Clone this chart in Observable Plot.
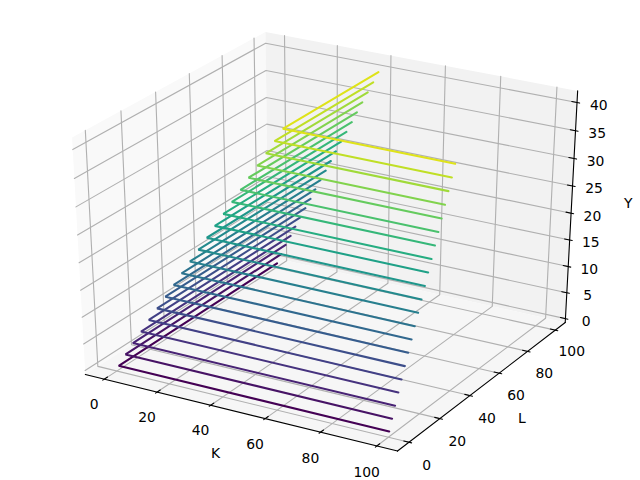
<!DOCTYPE html>
<html><head><meta charset="utf-8">
<script src="https://cdn.jsdelivr.net/npm/d3@7"></script>
<script src="https://cdn.jsdelivr.net/npm/@observablehq/plot@0.6"></script>
<style>html,body{margin:0;padding:0;background:#fff}svg{display:block}</style>
</head><body><div id="chart"></div>
<script>
const kLim = [-5, 105], lLim = [-5, 105], yLim = [0.1, 41.2];
const kTicks = [0, 20, 40, 60, 80, 100];
const lTicks = [0, 20, 40, 60, 80, 100];
const yTicks = [0, 5, 10, 15, 20, 25, 30, 35, 40];
const levels = [0.2,2.2,4.2,6.2,8.2,10.2,12.2,14.2,16.2,18.2,20.2,22.2,24.2,26.2,28.2,30.2,32.2,34.2,36.2,38.2,40.2];
const cornerK = [0.5,2.2,4,6,7.9,9.9,11.9,13.9,15.8,17.8,19.8,21.8,23.7,25.7,27.7,29.7,31.6,33.6,35.6,37.6,39.5];
const cornerL = [0.5,2.2,4,6,7.9,9.9,11.9,13.9,15.8,17.8,19.8,21.8,23.7,25.7,27.7,29.7,31.6,33.6,35.6,37.6,39.5];
const kEnd = 100, lEnd = 100;
const colorDomain = [0.2, 42.2];

const elev = 30 * Math.PI / 180, azim = -60 * Math.PI / 180, dist = 10;
const n = [Math.cos(elev) * Math.cos(azim), Math.cos(elev) * Math.sin(azim), Math.sin(elev)];
const u = [-n[1], n[0], 0].map(v => v / Math.hypot(n[0], n[1]));
const v = [n[1]*u[2]-n[2]*u[1], n[2]*u[0]-n[0]*u[2], n[0]*u[1]-n[1]*u[0]];
const dot = (a, b) => a[0]*b[0] + a[1]*b[1] + a[2]*b[2];
function proj(k, l, y) {
  const p = [(k-kLim[0])/(kLim[1]-kLim[0]) - .5, (l-lLim[0])/(lLim[1]-lLim[0]) - .5, (y-yLim[0])/(yLim[1]-yLim[0]) - .5];
  const depth = dist - dot(n, p);
  return {x: dot(u, p) / depth, y: dot(v, p) / depth};
}
const dK = (kLim[1]-kLim[0])/12, dL = (lLim[1]-lLim[0])/12, dY = (yLim[1]-yLim[0])/12;
const k0 = kLim[0]-dK/4, k1 = kLim[1]+dK/4, l0 = lLim[0]-dL/4, l1 = lLim[1]+dL/4, y0 = yLim[0]-dY/4, y1 = yLim[1]+dY/4;
const path = pts => pts.map(p => proj(...p));
const lineXY = {x: "x", y: "y"};

const grid = [
  ...kTicks.map(t => path([[t,l0,y0],[t,l1,y0],[t,l1,y1]])),
  ...lTicks.map(t => path([[k1,t,y0],[k0,t,y0],[k0,t,y1]])),
  ...yTicks.map(t => path([[k0,l0,t],[k0,l1,t],[k1,l1,t]]))
];
const ticks = [
  ...kTicks.map(t => path([[t,l0-.1*dL,y0],[t,l0+.2*dL,y0]])),
  ...lTicks.map(t => path([[k1+.1*dK,t,y0],[k1-.2*dK,t,y0]])),
  ...yTicks.map(t => path([[k1+.1*dK,l1,t],[k1-.2*dK,l1,t]]))
];
const f = 0.685, fz = 0.56;
const kLabels = kTicks.map(t => ({...proj(t, l0-f*dL, y0-f*dY), t}));
const lLabels = lTicks.map(t => ({...proj(k1+f*dK, t, y0-f*dY), t}));
const yLabels = yTicks.map(t => ({...proj(k1+fz*dK, l1+fz*dL, t), t}));
const g = 1.5;
const groundTitles = [
  {...proj((k0+k1)/2, l0-g*dL, y0-g*dY), t: "K"},
  {...proj(k1+g*dK, (l0+l1)/2, y0-g*dY), t: "L"}
];
const yTitle = [{...proj(k1+g*dK, l1+g*dL, (y0+y1)/2), t: "Y"}];
const contour = levels.flatMap((z, i) => [
  {...proj(kEnd, cornerL[i], z), z},
  {...proj(cornerK[i], cornerL[i], z), z},
  {...proj(cornerK[i], lEnd, z), z}
]);
const txt = {x: "x", y: "y", fontSize: 13.9, fill: "#000"};

const chart = Plot.plot({
  width: 640, height: 480, margin: 0,
  x: {domain: [-0.095, 0.09], range: [0, 640], axis: null},
  y: {domain: [-0.095, 0.09], range: [480, 0], axis: null},
  color: {type: "linear", scheme: "viridis", domain: colorDomain},
  style: {fontFamily: "DejaVu Sans", background: "#fff", overflow: "visible"},
  marks: [
    Plot.line(path([[k0,l0,y0],[k0,l1,y0],[k0,l1,y1],[k0,l0,y1]]), {...lineXY, fill: "#f9f9f9", stroke: "none"}),
    Plot.line(path([[k0,l1,y0],[k1,l1,y0],[k1,l1,y1],[k0,l1,y1]]), {...lineXY, fill: "#f2f2f2", stroke: "none"}),
    Plot.line(path([[k0,l0,y0],[k1,l0,y0],[k1,l1,y0],[k0,l1,y0]]), {...lineXY, fill: "#f6f6f6", stroke: "none"}),
    ...grid.map(g => Plot.line(g, {...lineXY, stroke: "#b0b0b0", strokeWidth: 1.11})),
    Plot.line(path([[k0,l0,y0],[k1,l0,y0]]), {...lineXY, stroke: "#000", strokeWidth: 1.11}),
    Plot.line(path([[k1,l0,y0],[k1,l1,y0]]), {...lineXY, stroke: "#000", strokeWidth: 1.11}),
    Plot.line(path([[k1,l1,y0],[k1,l1,y1]]), {...lineXY, stroke: "#000", strokeWidth: 1.11}),
    ...ticks.map(g => Plot.line(g, {...lineXY, stroke: "#000", strokeWidth: 1.11})),
    Plot.line(contour, {...lineXY, stroke: "z", strokeWidth: 2.08, strokeLinejoin: "miter"}),
    Plot.text(kLabels, {...txt, text: d => String(d.t), dy: 6}),
    Plot.text(lLabels, {...txt, text: d => String(d.t), dy: 6}),
    Plot.text(yLabels, {...txt, text: d => String(d.t), dy: 5}),
    Plot.text(groundTitles, {...txt, text: "t", dy: -2}),
    Plot.text(yTitle, {...txt, text: "t"})
  ]
});
document.getElementById("chart").append(chart);
</script></body></html>
